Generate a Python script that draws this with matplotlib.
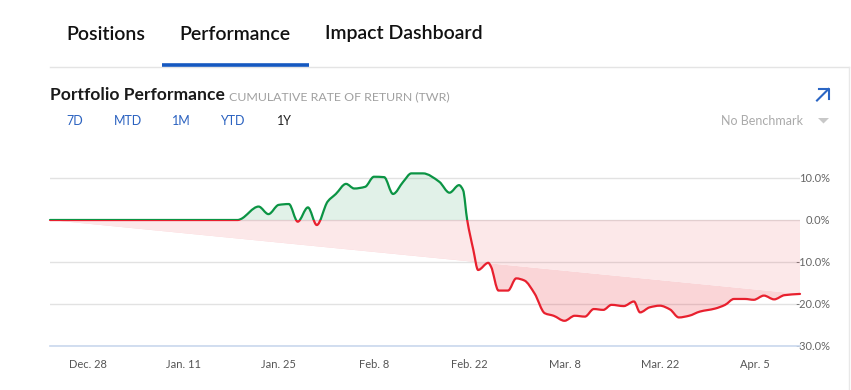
import numpy as np
import matplotlib.pyplot as plt
from matplotlib.path import Path
from matplotlib.patches import PathPatch, Rectangle, Polygon
from matplotlib.lines import Line2D

plt.rcParams['font.family'] = ['Lato', 'DejaVu Sans']

# days since Dec. 22 and cumulative return (%)
days = [0.4, 28.0, 28.4, 31.05, 32.5, 34.0, 35.5, 36.8, 38.3, 39.6, 41.2, 42.4,
        43.9, 45.1, 46.7, 48.0, 49.5, 50.8, 52.3, 53.5, 55.2, 57.6, 59.1, 60.5,
        61.1, 61.7, 62.6, 63.3, 64.8, 65.2, 66.3, 67.7, 68.9, 70.1, 71.6, 73.1,
        74.4, 76.0, 77.5, 79.0, 80.3, 81.7, 82.9, 84.7, 86.2, 87.1, 88.5, 90.0,
        91.5, 92.8, 94.3, 95.9, 98.1, 99.6, 100.9, 102.5, 103.8, 105.3, 106.8,
        108.3, 110.6]
returns = [0.0, 0.0, 0.2, 3.2, 1.4, 3.6, 3.8, -0.4, 3.0, -1.2, 4.4, 6.2,
           8.6, 7.5, 7.9, 10.3, 10.2, 6.2, 9.1, 11.1, 11.1, 9.1, 6.5, 8.3,
           7.1, 0.0, -7.1, -11.9, -10.2, -11.1, -16.8, -16.8, -13.9, -14.4, -17.5, -22.2,
           -22.8, -24.0, -22.8, -23.0, -21.2, -21.4, -20.2, -20.5, -19.4, -22.0, -20.8, -20.4,
           -21.3, -23.2, -22.8, -21.8, -21.1, -20.2, -18.8, -18.8, -19.0, -18.0, -18.9,
           -17.9, -17.6]

tick_days = [6, 20, 34, 48, 62, 76, 90, 104]
tick_labels = ['Dec. 28', 'Jan. 11', 'Jan. 25', 'Feb. 8', 'Feb. 22', 'Mar. 8', 'Mar. 22', 'Apr. 5']
y_ticks = [10, 0, -10, -20, -30]
y_labels = ['10.0%', '0.0%', '-10.0%', '-20.0%', '-30.0%']

GREEN = '#0b9444'
RED = '#e8202e'
W, H = 851, 390


def smooth_verts(x, y):
    # monotone cubic bezier through the points (drawing only)
    x = np.asarray(x, float)
    y = np.asarray(y, float)
    h = np.diff(x)
    d = np.diff(y) / h
    m = np.zeros(len(x))
    m[0], m[-1] = d[0], d[-1]
    for i in range(1, len(x) - 1):
        if d[i - 1] * d[i] > 0:
            w1 = 2 * h[i] + h[i - 1]
            w2 = h[i] + 2 * h[i - 1]
            m[i] = (w1 + w2) / (w1 / d[i - 1] + w2 / d[i])
    verts = [(x[0], y[0])]
    codes = [Path.MOVETO]
    for i in range(len(x) - 1):
        verts += [(x[i] + h[i] / 3, y[i] + m[i] * h[i] / 3),
                  (x[i + 1] - h[i] / 3, y[i + 1] - m[i + 1] * h[i] / 3),
                  (x[i + 1], y[i + 1])]
        codes += [Path.CURVE4] * 3
    return verts, codes


fig = plt.figure(figsize=(W / 100, H / 100), dpi=100)
ax = fig.add_axes([50 / W, 1 - 346 / H, 750 / W, 189 / H])
ax.set_xlim(days[0], days[-1])
ax.set_ylim(-30, 15)

x0, xN, yN = days[0], days[-1], returns[-1]
verts, codes = smooth_verts(days, returns)

# light pink wedge between zero and the start-end chord
ax.fill([x0, xN, xN], [0, 0, yN], color=RED, alpha=0.1, lw=0, zorder=1)

# darker pink between chord and the curve, below the chord
chord_path = Path(verts + [(x0, 0)], codes + [Path.CLOSEPOLY])
below = PathPatch(chord_path, facecolor=RED, alpha=0.19, lw=0, zorder=1)
ax.add_patch(below)
below.set_clip_path(Polygon([(x0, 0), (xN, yN), (xN, -100), (x0, -100)],
                            transform=ax.transData))

# green area above zero
area_path = Path(verts + [(xN, 0), (x0, 0), (x0, 0)],
                 codes + [Path.LINETO, Path.LINETO, Path.CLOSEPOLY])
above = PathPatch(area_path, facecolor=GREEN, alpha=0.12, lw=0, zorder=1)
ax.add_patch(above)
above.set_clip_path(Rectangle((x0, 0), xN - x0, 100, transform=ax.transData))

# line, green above zero and red below
for col, rect in [(GREEN, Rectangle((x0 - 5, 0), xN - x0 + 10, 100, transform=ax.transData)),
                  (RED, Rectangle((x0 - 5, -100), xN - x0 + 10, 100, transform=ax.transData))]:
    ln = PathPatch(Path(verts, codes), facecolor='none', edgecolor=col, lw=1.6,
                   zorder=3, capstyle='round', joinstyle='round')
    ax.add_patch(ln)
    ln.set_clip_path(rect)

ax.set_yticks(y_ticks)
ax.set_yticklabels(y_labels)
ax.yaxis.tick_right()
ax.tick_params(axis='y', length=0, pad=21.6, labelsize=8, labelcolor='#666666')
for t in ax.get_yticklabels():
    t.set_horizontalalignment('right')
ax.set_xticks(tick_days)
ax.set_xticklabels(tick_labels)
ax.tick_params(axis='x', length=0, pad=9, labelsize=8, labelcolor='#555555')
ax.yaxis.grid(True, color='#e2e2e2', lw=1)
ax.set_axisbelow(True)
for s in ['top', 'left', 'right']:
    ax.spines[s].set_visible(False)
ax.spines['bottom'].set_color('#c9d8ee')
ax.spines['bottom'].set_linewidth(1.2)
ax.spines['bottom'].set_zorder(4)


def fx(px):
    return px / W


def fy(py):
    return 1 - py / H


# header tabs
for label, px in [('Positions', 66), ('Performance', 179), ('Impact Dashboard', 325)]:
    fig.text(fx(px), fy(34), label, fontsize=14, fontweight='semibold', color='#111111',
             va='center', ha='left')
fig.add_artist(Line2D([fx(50), fx(849)], [fy(67.3), fy(67.3)], color='#e4e4e4', lw=1))
fig.add_artist(Line2D([fx(849), fx(849)], [fy(67.3), fy(390)], color='#e8e8e8', lw=1))
fig.add_artist(Line2D([fx(162), fx(309)], [fy(65), fy(65)], color='#1558c0', lw=2.6,
                      solid_capstyle='butt'))

# title
fig.text(fx(50), fy(95), 'Portfolio Performance', fontsize=12.6, fontweight='bold',
         color='#1a1a1a', va='center', ha='left')
fig.text(fx(229), fy(97), 'CUMULATIVE RATE OF RETURN (TWR)', fontsize=8.9,
         color='#a0a0a0', va='center', ha='left')

# expand arrow icon
arrow_c = '#2a65c4'
fig.add_artist(Line2D([fx(817), fx(828.5)], [fy(100.5), fy(89)], color=arrow_c, lw=1.5))
fig.add_artist(Line2D([fx(819), fx(828.5), fx(828.5)], [fy(89), fy(89), fy(98.5)],
                      color=arrow_c, lw=1.5))

# range buttons
for label, px, col in [('7D', 66, '#2b62c0'), ('MTD', 114, '#2b62c0'), ('1M', 172, '#2b62c0'),
                       ('YTD', 220, '#2b62c0'), ('1Y', 277, '#222222')]:
    fig.text(fx(px), fy(121), label, fontsize=9, color=col, va='center', ha='left')
fig.text(fx(721), fy(121), 'No Benchmark', fontsize=9, color='#aaaaaa', va='center', ha='left')
fig.add_artist(Polygon([(fx(818), fy(118)), (fx(829), fy(118)), (fx(823.5), fy(123.5))],
                       closed=True, transform=fig.transFigure, facecolor='#c8c8c8',
                       edgecolor='none'))

fig.savefig('out.png', dpi=100)
